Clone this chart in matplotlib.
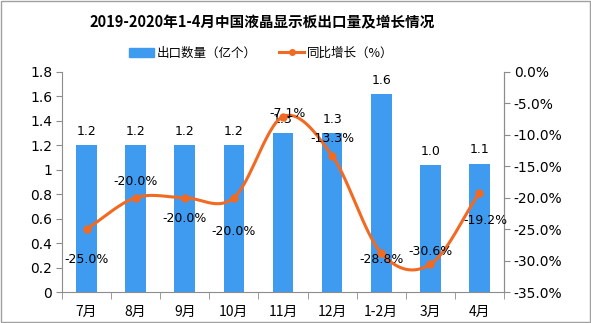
import numpy as np
import matplotlib
matplotlib.use("Agg")
import matplotlib.pyplot as plt
from matplotlib.lines import Line2D
from matplotlib.patches import Patch

plt.rcParams['font.family'] = ['Noto Sans CJK SC', 'DejaVu Sans']

categories = ["7月", "8月", "9月", "10月", "11月", "12月", "1-2月", "3月", "4月"]
volume = [1.2, 1.2, 1.2, 1.2, 1.3, 1.3, 1.62, 1.04, 1.05]
volume_labels = ["1.2", "1.2", "1.2", "1.2", "1.3", "1.3", "1.6", "1.0", "1.1"]
growth = [-25.0, -20.0, -20.0, -20.0, -7.1, -13.3, -28.8, -30.6, -19.2]
left_ticks = [0, 0.2, 0.4, 0.6, 0.8, 1, 1.2, 1.4, 1.6, 1.8]
right_ticks = [0, -5, -10, -15, -20, -25, -30, -35]

BAR = "#3F9BEF"
LINE = "#F26A22"
GRAY = "#8C8C8C"

fig = plt.figure(figsize=(5.91, 3.23), dpi=100)
ax = fig.add_axes([62/591, 1 - 292/323, (504-62)/591, (292-72)/323])
x = np.arange(len(categories))
ax.bar(x, volume, width=0.42, color=BAR, zorder=2)
ax.set_xlim(-0.5, len(categories) - 0.5)
ax.set_ylim(0, 1.8)
ax.set_yticks(left_ticks)
ax.set_yticklabels([f"{t:g}" for t in left_ticks], fontsize=10, family='DejaVu Sans')
ax.set_xticks(x)
ax.set_xticklabels(categories, fontsize=10)
ax.set_xticks(np.arange(len(categories) + 1) - 0.5, minor=True)
ax.tick_params(axis='x', which='major', length=0, pad=9)
ax.tick_params(axis='x', which='minor', length=5, color=GRAY)
ax.tick_params(axis='y', length=4, color=GRAY, pad=3)
ax.spines['top'].set_visible(False)
for s in ['left', 'bottom', 'right']:
    ax.spines[s].set_color(GRAY)

for xi, v, lab in zip(x, volume, volume_labels):
    ax.text(xi, v + 0.06, lab, ha='center', va='bottom', fontsize=9, family='DejaVu Sans')

ax2 = ax.twinx()
ax2.set_ylim(-35, 0)
ax2.set_yticks(right_ticks)
ax2.set_yticklabels([f"{t:.1f}%" if t != 0 else "0.0%" for t in right_ticks], fontsize=10, family='DejaVu Sans')
ax2.tick_params(axis='y', length=4, color=GRAY, pad=3)
for s in ['top', 'left', 'bottom']:
    ax2.spines[s].set_visible(False)
ax2.spines['right'].set_color(GRAY)

# smooth curve through data points (Catmull-Rom rendering)
gx = np.array(x, dtype=float)
gy = np.array(growth, dtype=float)
px = np.concatenate([[2*gx[0]-gx[1]], gx, [2*gx[-1]-gx[-2]]])
py = np.concatenate([[2*gy[0]-gy[1]], gy, [2*gy[-1]-gy[-2]]])
sx, sy = [], []
for i in range(1, len(px) - 2):
    t = np.linspace(0, 1, 30)
    for arr, out in ((px, sx), (py, sy)):
        p0, p1, p2, p3 = arr[i-1], arr[i], arr[i+1], arr[i+2]
        out.extend(0.5*((2*p1) + (-p0+p2)*t + (2*p0-5*p1+4*p2-p3)*t**2 + (-p0+3*p1-3*p2+p3)*t**3))
ax2.plot(sx, sy, color=LINE, lw=2.2, zorder=3)
ax2.plot(gx, gy, 'o', color=LINE, ms=5, zorder=4)

offsets = [(0, -22), (0, 12), (0, -15), (0, -24), (3, 2), (0, 12), (0, -5), (0, 9), (4, -20)]
for xi, v, (dx, dy) in zip(gx, gy, offsets):
    ax2.annotate(f"{v:.1f}%", (xi, v), xytext=(dx, dy), textcoords='offset points',
                 ha='center', va='center', fontsize=9, family='DejaVu Sans')

fig.text(262/591, 1 - 22/323, "2019-2020年1-4月中国液晶显示板出口量及增长情况", ha='center', va='center',
         fontsize=10.5, fontweight='bold')
handles = [Patch(color=BAR), Line2D([0], [0], color=LINE, lw=2.2, marker='o', ms=4)]
fig.legend(handles, ["出口数量（亿个）", "同比增长（%）"], loc='center', bbox_to_anchor=(261/591, 1 - 53/323),
           ncol=2, frameon=False, fontsize=9, handlelength=2.0, columnspacing=1.8, handletextpad=0.2)

fig.patches.append(plt.Rectangle((0.002, 0.003), 0.996, 0.994, transform=fig.transFigure,
                                 fill=False, edgecolor="#A0A0A0", lw=1))
fig.savefig("out.png", dpi=100)
